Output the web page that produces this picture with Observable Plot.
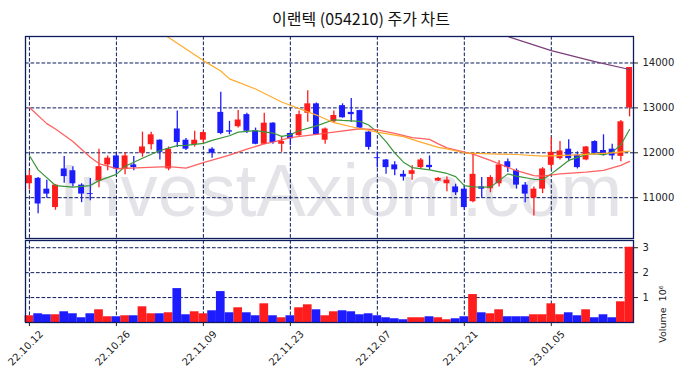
<!DOCTYPE html>
<html><head><meta charset="utf-8">
<script src="https://cdn.jsdelivr.net/npm/d3@7"></script>
<script src="https://cdn.jsdelivr.net/npm/@observablehq/plot@0.6"></script>
<style>
body{margin:0;background:#fff;}
#wrap{position:relative;width:683px;height:378px;overflow:hidden;background:#fff;}
#title{position:absolute;left:211px;width:300px;top:7px;text-align:center;font-family:"Noto Sans CJK KR",sans-serif;font-size:16px;color:#111;line-height:22px;white-space:nowrap;}
#main{position:absolute;left:0;top:0;}
#vol{position:absolute;left:0;top:239px;}
</style></head>
<body><div id="wrap"><div id="main"></div><div id="vol"></div><div id="title">이랜텍 (054210) 주가 차트</div></div>
<script>
// ---- data ----
const tickIdx = [0, 10, 20, 30, 40, 50, 60];
const tickLabels = ["22.10.12", "22.10.26", "22.11.09", "22.11.23", "22.12.07", "22.12.21", "23.01.05"];
const priceTicks = [11000, 12000, 13000, 14000];
const volTicks = [1e6, 2e6, 3e6];

const open  = [11310,11430,11190,10780,11640,11600,11280,11090,11370,11730,11930,11640,11730,11990,12180,12280,11640,12530,12280,12180,
               12280,12080,12900,12490,12580,12850,12490,12190,12660,12190,12430,12380,12880,13090,12280,12690,13050,12900,12940,12460,
               11890,11840,11730,11520,11520,11670,11720,11370,11310,11240,11190,10910,11240,11200,11310,11800,11600,11280,10990,11190,
               11720,11870,12080,11950,11840,12250,12050,12080,11920,13000];
const high  = [11600,11450,11390,11290,11920,11690,11310,11430,12080,11930,11990,12000,11920,12460,12460,12290,12130,12930,12320,12480,
               12470,12110,13350,12700,12940,12880,12550,12880,12670,12360,12440,12930,13380,13110,12550,12930,13090,13210,12950,12470,
               12010,11850,11800,11600,11710,11870,11930,11450,11460,11300,11260,11990,11450,11490,11820,11860,11640,11340,11240,11670,
               12340,12250,12290,12020,12140,12270,12400,12190,12720,13900];
const low   = [11170,10640,10990,10720,11320,11240,10890,10930,11220,11600,11520,11510,11600,11900,12060,11840,11600,12120,12050,12130,
               12210,11880,12400,12400,12550,12430,12180,12180,12190,12010,12160,12370,12680,12400,12190,12660,12770,12680,12530,12060,
               11660,11520,11490,11370,11390,11650,11610,11360,11130,11050,10720,10890,10990,11110,11240,11560,11190,10890,10590,11090,
               11640,11840,11800,11640,11820,11950,11930,11840,11800,12800];
const close = [11490,10860,11080,11280,11470,11310,11080,11070,11690,11880,11640,11930,11670,12130,12400,12010,12080,12230,12080,12280,
               12450,11990,12430,12460,12730,12480,12190,12660,12230,12250,12310,12850,13090,12400,12530,12830,12780,12850,12550,12120,
               11870,11670,11620,11460,11600,11840,11670,11430,11390,11110,10780,11520,11190,11450,11730,11670,11280,11080,11190,11640,
               12010,12040,11870,11670,12130,11990,11950,11930,12690,13900];
const volume = [270000,350000,310000,310000,430000,350000,190000,350000,510000,230000,230000,270000,270000,630000,350000,350000,390000,1360000,310000,430000,
                350000,470000,1240000,390000,590000,390000,270000,750000,270000,190000,270000,590000,710000,510000,270000,430000,470000,430000,310000,350000,
                270000,190000,150000,110000,190000,190000,230000,190000,110000,150000,230000,1120000,390000,350000,510000,230000,230000,230000,310000,310000,
                750000,310000,390000,270000,510000,190000,310000,190000,830000,3020000];

const ma5Idx = [0,1,3,5,7,8,10,11,13,15,17,18,20,21,23,24,26,28,29,30,31,33,35,36,38,39,40,41,42,43,44,46,48,49,50,51,53,54,55,56,58,59,60,61,62,64,65,66,67,68,69];
const ma5Val = [11940,11620,11270,11235,11270,11380,11520,11700,11880,12050,12160,12165,12210,12275,12380,12460,12495,12440,12365,12400,12490,12600,12735,12720,12700,12620,12460,12250,12000,11790,11670,11620,11540,11470,11270,11240,11235,11380,11530,11480,11410,11405,11530,11680,11830,11960,11980,11955,12010,12180,12520];
const ma20Idx = [0,2,3,5,7,8,10,13,16,18,20,23,25,27,28,30,33,35,38,40,42,44,46,47,48,51,53,54,56,58,59,61,64,66,68,69];
const ma20Val = [13010,12650,12530,12250,11900,11760,11645,11670,11690,11660,11780,11950,12080,12200,12236,12340,12410,12460,12535,12510,12430,12340,12300,12200,12110,11970,11830,11755,11600,11490,11480,11530,11570,11610,11720,11810];
const ma60Idx = [12,16,20,22,23,26,29,33,35,37,40,43,45,47,48,50,53,56,59,63,67,69];
const ma60Val = [15050,14570,14053,13822,13645,13420,13130,12840,12670,12580,12460,12360,12236,12120,12089,12000,11978,11962,11925,11955,12000,12036];
const ma120Idx = [50,55,60,65,69];
const ma120Val = [14950,14590,14275,14030,13855];

// ---- build ----
const n = open.length;
const bars = d3.range(n).map(i => ({i, o: open[i], h: high[i], l: low[i], c: close[i], v: volume[i], up: close[i] >= open[i]}));
const pts = (ix, vals) => ix.map((x, k) => ({x, y: vals[k]}));
const UP = "#ff1c1c", DN = "#1c1cff", NAVY = "#0c1c5c";
const xDomain = [-0.45, n - 1 + 0.45];
const grid = {stroke: NAVY, strokeOpacity: 1, strokeWidth: 1, strokeDasharray: "3.7,1.8"};
const base = {width: 683, marginLeft: 25, marginRight: 50,
  style: {background: "transparent", fontFamily: "DejaVu Sans, sans-serif", fontSize: "10px", color: "#222", overflow: "visible"}};

const main = Plot.plot({
  ...base, height: 239, marginTop: 36, marginBottom: 1,
  x: {domain: xDomain, axis: null},
  y: {domain: [10091, 14590], axis: null},
  marks: [
    Plot.text(["InvestAxiom.com"], {text: d => d, frameAnchor: "middle", dx: 11, dy: 55, fontSize: 74, fill: "#e3e3e8", fontFamily: "Liberation Sans, Arial, sans-serif"}),
    Plot.gridX(tickIdx, grid),
    Plot.gridY(priceTicks, grid),
    Plot.ruleX(bars, {filter: d => d.up, x: "i", y1: "l", y2: "h", stroke: UP, strokeWidth: 1.3}),
    Plot.ruleX(bars, {filter: d => !d.up, x: "i", y1: "l", y2: "h", stroke: DN, strokeWidth: 1.3}),
    Plot.rect(bars, {filter: d => d.up, x1: d => d.i - 0.34, x2: d => d.i + 0.34, y1: "o", y2: "c", fill: UP}),
    Plot.rect(bars, {filter: d => !d.up, x1: d => d.i - 0.34, x2: d => d.i + 0.34, y1: "o", y2: "c", fill: DN}),
    Plot.line(pts(ma5Idx, ma5Val), {x: "x", y: "y", stroke: "#3a963a", strokeWidth: 1.2, clip: true}),
    Plot.line(pts(ma20Idx, ma20Val), {x: "x", y: "y", stroke: "#ff5050", strokeOpacity: 0.9, strokeWidth: 1.3, clip: true}),
    Plot.line(pts(ma60Idx, ma60Val), {x: "x", y: "y", stroke: "#ffaa2a", strokeWidth: 1.2, clip: true}),
    Plot.line(pts(ma120Idx, ma120Val), {x: "x", y: "y", stroke: "#7a3d7a", strokeWidth: 1.2, clip: true}),
    Plot.frame({stroke: NAVY, strokeWidth: 1.3}),
    Plot.axisY({ticks: priceTicks, anchor: "right", tickSize: 4, tickPadding: 5, label: null, tickFormat: d => String(d)})
  ]
});
document.getElementById("main").appendChild(main);

const vol = Plot.plot({
  ...base, height: 139, marginTop: 1, marginBottom: 56,
  x: {domain: xDomain, axis: null},
  y: {domain: [0, 3.29e6], axis: null},
  marks: [
    Plot.gridX(tickIdx, grid),
    Plot.gridY(volTicks, grid),
    Plot.rect(bars, {filter: d => d.up, x1: d => d.i - 0.5, x2: d => d.i + 0.5, y1: 0, y2: "v", fill: UP}),
    Plot.rect(bars, {filter: d => !d.up, x1: d => d.i - 0.5, x2: d => d.i + 0.5, y1: 0, y2: "v", fill: DN}),
    Plot.frame({stroke: NAVY, strokeWidth: 1.3}),
    Plot.axisY({ticks: volTicks, anchor: "right", tickSize: 4, tickPadding: 5, label: null, tickFormat: d => String(d / 1e6)}),
    Plot.axisX({ticks: tickIdx, anchor: "bottom", tickSize: 4, label: null, tickFormat: () => ""}),
    Plot.text(tickIdx, {x: d => d, text: (d, k) => tickLabels[k], frameAnchor: "bottom", dy: 28, dx: -1.5, rotate: -45, textAnchor: "middle", fontSize: 10, fill: "#222"}),
    Plot.text(["Volume  10⁶"], {text: d => d, frameAnchor: "right", dx: 29, dy: 4, rotate: -90, fontSize: 9.5, fill: "#222"})
  ]
});
document.getElementById("vol").appendChild(vol);
</script>
</body></html>
